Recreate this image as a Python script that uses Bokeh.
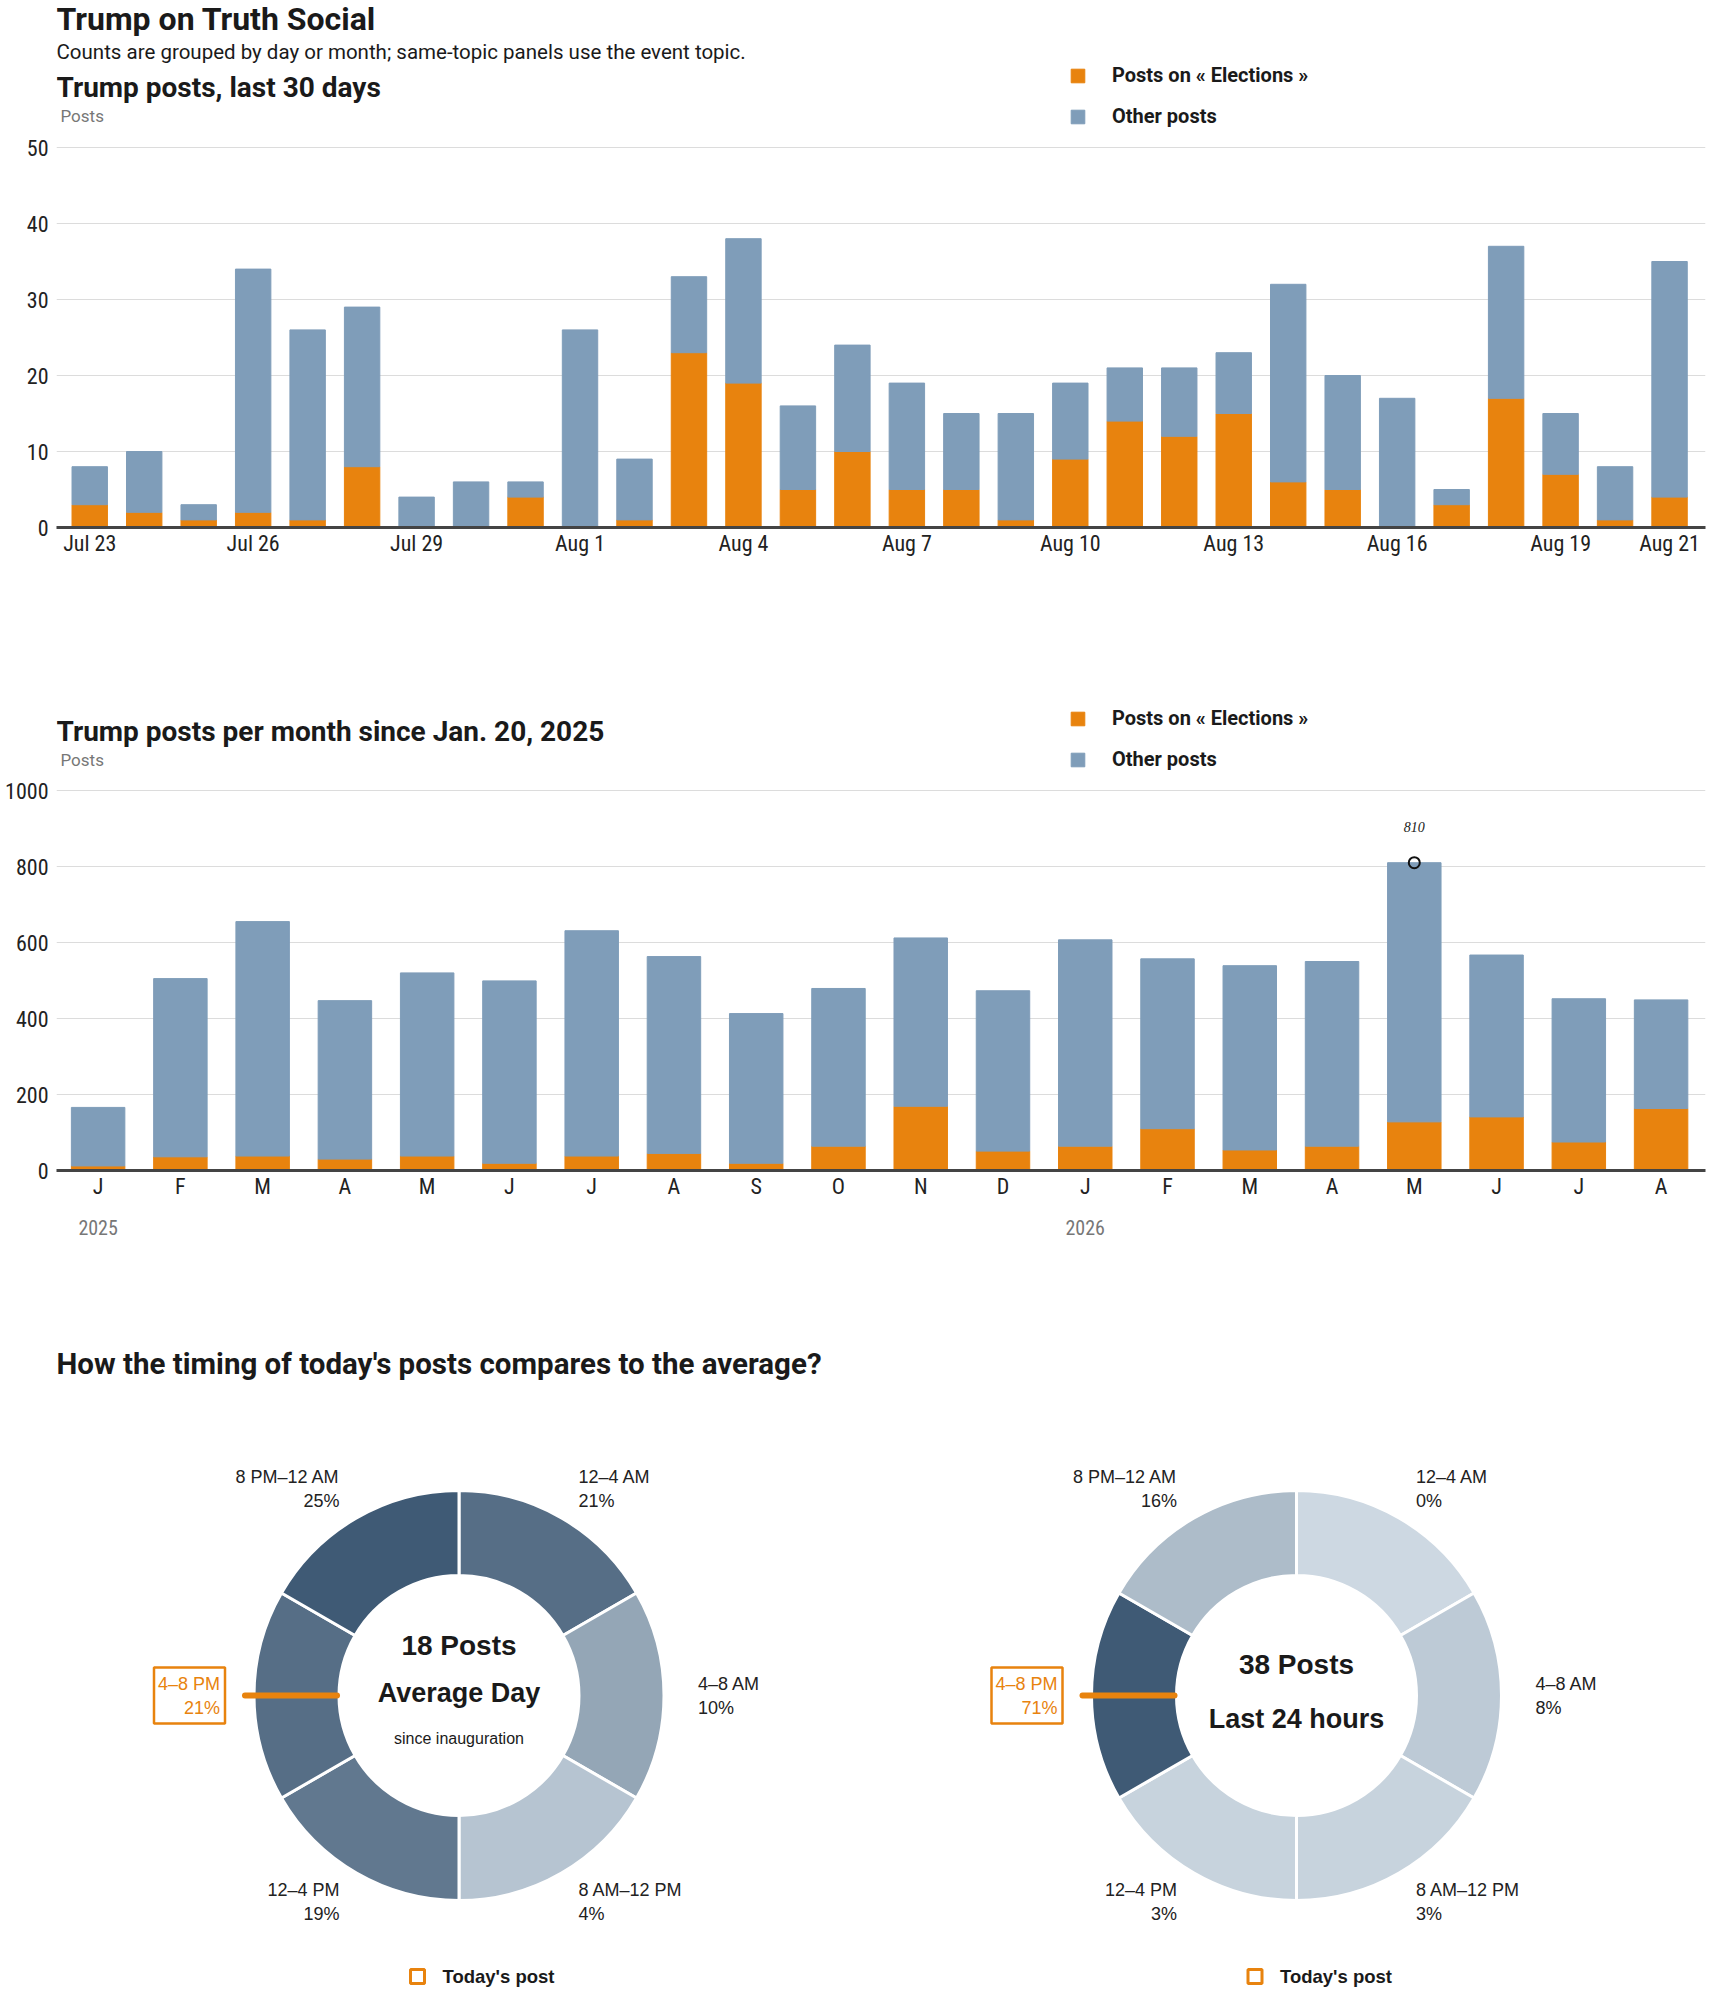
from math import cos, radians, sin

from bokeh.core.properties import value
from bokeh.embed import file_html
from bokeh.layouts import column
from bokeh.models import ColumnDataSource, FixedTicker, Label, LinearAxis, Range1d
from bokeh.plotting import figure
from bokeh.resources import INLINE

HEAD = "Roboto"
TICKS = "Roboto Condensed"
SANS = "Liberation Sans"
ORANGE = "#e8830e"
BLUE = "#7f9db9"
INK = "#1a1a1a"
GREY = "#777777"
PAGE_W = 1710
LEFT, RIGHT = 56, 5
FRAME_W = PAGE_W - LEFT - RIGHT

# --- data -------------------------------------------------------------------
days = ["Jul 23", "Jul 24", "Jul 25", "Jul 26", "Jul 27", "Jul 28", "Jul 29", "Jul 30",
        "Jul 31", "Aug 1", "Aug 2", "Aug 3", "Aug 4", "Aug 5", "Aug 6", "Aug 7", "Aug 8",
        "Aug 9", "Aug 10", "Aug 11", "Aug 12", "Aug 13", "Aug 14", "Aug 15", "Aug 16",
        "Aug 17", "Aug 18", "Aug 19", "Aug 20", "Aug 21"]
day_elections = [3, 2, 1, 2, 1, 8, 0, 0, 4, 0, 1, 23, 19, 5, 10, 5, 5, 1, 9, 14, 12, 15,
                 6, 5, 0, 3, 17, 7, 1, 4]
day_totals = [8, 10, 3, 34, 26, 29, 4, 6, 6, 26, 9, 33, 38, 16, 24, 19, 15, 15, 19, 21,
              21, 23, 32, 20, 17, 5, 37, 15, 8, 35]
day_ticks = [0, 3, 6, 9, 12, 15, 18, 21, 24, 27, 29]

months = ["J", "F", "M", "A", "M", "J", "J", "A", "S", "O", "N", "D",
          "J", "F", "M", "A", "M", "J", "J", "A"]
month_years = {0: "2025", 12: "2026"}
month_elections = [12, 36, 38, 30, 38, 19, 38, 45, 19, 64, 169, 51,
                   64, 110, 54, 64, 128, 141, 75, 163]
month_totals = [166, 505, 655, 447, 520, 499, 631, 563, 413, 479, 612, 473,
                607, 557, 539, 550, 810, 567, 452, 449]

slots = ["12–4 AM", "4–8 AM", "8 AM–12 PM", "12–4 PM", "4–8 PM", "8 PM–12 AM"]
avg_share = [21, 10, 4, 19, 21, 25]
today_share = [0, 8, 3, 3, 71, 16]
today_slot = 4
avg_posts = 18
today_posts = 38


def text_label(p, x, y, text, size, style="normal", color=INK, font=HEAD, align="left"):
    p.add_layout(Label(x=x, y=y, x_units="screen", y_units="screen", text=text,
                       text_font=font, text_font_size=size, text_font_style=style,
                       text_color=color, text_align=align, text_baseline="middle"))


def style_axis(ax, color="#222222"):
    ax.major_tick_line_color = None
    ax.minor_tick_line_color = None
    ax.major_tick_out = 0
    ax.major_tick_in = 0
    ax.minor_tick_out = 0
    ax.major_label_text_font = TICKS
    ax.major_label_text_font_size = "22px"
    ax.major_label_text_color = color


def bar_chart(height, header, x_range, y_max, y_step, xs, elections, totals, ticks, tick_labels):
    # the frame reaches the top of the figure so the header texts are not clipped
    bars_h = 380
    frame_h = header + bars_h
    p = figure(width=PAGE_W, height=height, x_range=x_range,
               y_range=Range1d(0, y_max * frame_h / bars_h),
               min_border_left=LEFT, min_border_right=RIGHT, min_border_top=0,
               min_border_bottom=height - frame_h,
               output_backend="svg", toolbar_location=None, tools="")
    others = [t - e for t, e in zip(totals, elections)]
    source = ColumnDataSource(dict(x=xs, elec=elections, other=others))
    p.vbar_stack(["elec", "other"], x="x", width=0.65, color=[ORANGE, BLUE], source=source,
                 legend_label=["Posts on « Elections »", "Other posts"])

    p.outline_line_color = None
    p.xgrid.visible = False
    p.ygrid.grid_line_color = "#dcdcdc"
    p.yaxis.ticker = FixedTicker(ticks=list(range(0, y_max + 1, y_step)))
    p.xaxis.ticker = FixedTicker(ticks=ticks)
    p.xaxis.major_label_overrides = {t: lab for t, lab in zip(ticks, tick_labels)}
    style_axis(p.xaxis[0])
    style_axis(p.yaxis[0])
    p.xaxis.axis_line_color = "#444444"
    p.xaxis.axis_line_width = 3
    p.xaxis.major_label_standoff = 3
    p.yaxis.axis_line_color = None
    p.yaxis.major_label_standoff = 8

    lg = p.legend[0]
    lg.location = (1013, bars_h + 19)
    lg.glyph_width = 17
    lg.glyph_height = 17
    lg.label_height = 15
    lg.spacing = 17
    lg.padding = 0
    lg.margin = 0
    lg.label_standoff = 26
    lg.border_line_color = None
    lg.background_fill_alpha = 0
    lg.label_text_font = HEAD
    lg.label_text_font_style = "bold"
    lg.label_text_font_size = "20px"
    lg.label_text_color = INK
    return p, bars_h


# --- daily chart ------------------------------------------------------------
p1, fh = bar_chart(608, 147, Range1d(-0.61, 29.66), 50, 10, list(range(len(days))),
                   day_elections, day_totals, day_ticks, [days[i] for i in day_ticks])
text_label(p1, 0, fh + 129, "Trump on Truth Social", "32px", "bold")
text_label(p1, 0, fh + 96, "Counts are grouped by day or month; same-topic panels use the event topic.", "20.5px")
text_label(p1, 0, fh + 60, "Trump posts, last 30 days", "28px", "bold")
text_label(p1, 4, fh + 32, "Posts", "17px", color=GREY)

# --- monthly chart ----------------------------------------------------------
mx = list(range(len(months)))
p2, fh = bar_chart(662, 182, Range1d(-0.506, 19.54), 1000, 200, mx,
                   month_elections, month_totals, mx, months)
text_label(p2, 0, fh + 59, "Trump posts per month since Jan. 20, 2025", "28px", "bold")
text_label(p2, 4, fh + 31, "Posts", "17px", color=GREY)
year_axis = LinearAxis(ticker=FixedTicker(ticks=list(month_years)),
                       major_label_overrides=month_years, axis_line_color=None,
                       major_label_standoff=18)
style_axis(year_axis, GREY)
year_axis.major_label_text_font_size = "20px"
p2.add_layout(year_axis, "below")
peak = month_totals.index(max(month_totals))
p2.scatter([peak], [month_totals[peak]], size=11, fill_color=None, line_color="#111111",
           line_width=2)
p2.text([peak], [month_totals[peak]], text=[str(month_totals[peak])], y_offset=-36,
        text_font=value("Liberation Serif"), text_font_style="italic", text_font_size="14px",
        text_align="center", text_baseline="middle", text_color=INK)

# --- donuts -----------------------------------------------------------------
H3 = 720
p3 = figure(width=PAGE_W, height=H3, x_range=Range1d(0, FRAME_W), y_range=Range1d(0, H3),
            x_axis_type=None, y_axis_type=None, min_border_left=LEFT,
            min_border_right=RIGHT, min_border_top=0, min_border_bottom=0,
            output_backend="svg", toolbar_location=None, tools="")
p3.outline_line_color = None
p3.grid.visible = False
p3.add_layout(Label(x=0, y=627, text="How the timing of today's posts compares to the average?",
                    text_font=HEAD, text_font_size="29.5px", text_font_style="bold",
                    text_color=INK, text_baseline="middle"))

R_IN, R_OUT, R_LAB = 120, 205, 239
LIGHT = (205, 216, 226)
DARK = (63, 90, 117)


def shade(t):
    return "#%02x%02x%02x" % tuple(round(a + (b - a) * t) for a, b in zip(LIGHT, DARK))


def donut(cx, cy, shares, lines):
    top = max(shares)
    n = len(slots)
    step = 360 / n
    src = ColumnDataSource(dict(
        start=[radians(90 - step * (k + 1)) for k in range(n)],
        end=[radians(90 - step * k) for k in range(n)],
        color=[shade(s / top) for s in shares],
    ))
    p3.annular_wedge(x=cx, y=cy, inner_radius=R_IN, outer_radius=R_OUT,
                     start_angle="start", end_angle="end", fill_color="color",
                     line_color="white", line_width=3, source=src)

    for k, (slot, share) in enumerate(zip(slots, shares)):
        mid = radians(90 - step * k - step / 2)
        ax, ay = cx + R_LAB * cos(mid), cy + R_LAB * sin(mid)
        align = "left" if cos(mid) > 0.01 else "right"
        color = ORANGE if k == today_slot else "#222222"
        p3.text([ax, ax], [ay + 12, ay - 12], text=[slot, f"{share}%"],
                text_font=value(SANS), text_font_size="18px", text_color=color,
                text_align=align, text_baseline="middle")
        if k == today_slot:
            p3.quad(left=ax - 66, right=ax + 5, bottom=ay - 28, top=ay + 28,
                    fill_color=None, line_color=ORANGE, line_width=2.5)
            p3.segment(cx + (R_IN + 2) * cos(mid), cy + (R_IN + 2) * sin(mid),
                       cx + (R_OUT + 9) * cos(mid), cy + (R_OUT + 9) * sin(mid),
                       line_color=ORANGE, line_width=6, line_cap="round")

    for text, dy, size, style in lines:
        p3.text([cx], [cy + dy], text=[text], text_font=value(SANS), text_font_size=size,
                text_font_style=style, text_color=INK, text_align="center",
                text_baseline="middle")

    p3.scatter([cx - 41.5], [cy - 281], marker="square", size=14, fill_color=None,
               line_color=ORANGE, line_width=3)
    p3.text([cx - 16.5], [cy - 281], text=["Today's post"], text_font=value(SANS),
            text_font_size="18.5px", text_font_style="bold", text_color=INK,
            text_baseline="middle")


donut(402.5, 295, avg_share, [(f"{avg_posts} Posts", 50, "28px", "bold"),
                              ("Average Day", 3, "27px", "bold"),
                              ("since inauguration", -43, "16px", "normal")])
donut(1240, 295, today_share, [(f"{today_posts} Posts", 31, "28px", "bold"),
                               ("Last 24 hours", -23, "27px", "bold")])

page = column(p1, p2, p3, spacing=0)
open("out.html", "w").write(file_html(page, INLINE))
